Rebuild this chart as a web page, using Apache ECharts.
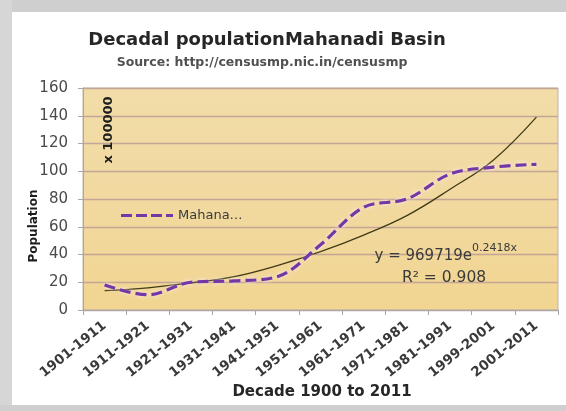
<!DOCTYPE html>
<html>
<head>
<meta charset="utf-8">
<script src="https://cdn.jsdelivr.net/npm/echarts@6/dist/echarts.min.js"></script>
<style>
html,body{margin:0;padding:0;background:#fff;}
#chart{width:566px;height:411px;}
</style>
</head>
<body>
<div id="chart"></div>
<script>
var categories = ['1901-1911','1911-1921','1921-1931','1931-1941','1941-1951','1951-1961','1961-1971','1971-1981','1981-1991','1999-2001','2001-2011'];
var population = [18, 11, 20, 21, 24, 47, 74, 80, 98, 103, 105];
var trend = [14, 16, 19.5, 24, 32, 42, 54, 68, 87, 108, 139];
var yTicks = [0, 20, 40, 60, 80, 100, 120, 140, 160];

var chart = echarts.init(document.getElementById('chart'), null, {renderer: 'canvas'});
var font = 'DejaVu Sans';
var dashIcon = 'path://M0,0 L11,0 L11,3 L0,3 Z M15,0 L26,0 L26,3 L15,3 Z M30,0 L41,0 L41,3 L30,3 Z M45,0 L52,0 L52,3 L45,3 Z';
var option = {
  backgroundColor: '#ffffff',
  animation: false,
  grid: {
    left: 83, top: 88, right: 8, bottom: 101,
    show: true,
    backgroundColor: new echarts.graphic.LinearGradient(0, 0, 0, 1, [
      {offset: 0, color: '#f2dda8'},
      {offset: 0.5, color: '#f1d9a0'},
      {offset: 1, color: '#f1d591'}
    ]),
    borderColor: '#bdb6a8', borderWidth: 1
  },
  legend: {
    left: 116, top: 204,
    icon: dashIcon,
    itemWidth: 52, itemHeight: 3, itemGap: 10,
    data: ['Mahanadi'],
    formatter: function () { return 'Mahana…'; },
    textStyle: {fontFamily: font, fontSize: 13, color: '#3a3a3a'}
  },
  xAxis: {
    type: 'category',
    data: categories,
    boundaryGap: true,
    axisLine: {lineStyle: {color: '#a8a8a8'}},
    axisTick: {show: true, length: 5, lineStyle: {color: '#a8a8a8'}},
    axisLabel: {rotate: 39, margin: 14, fontFamily: font, fontSize: 13.5, fontWeight: 'bold', color: '#3a3a3a', interval: 0}
  },
  yAxis: {
    type: 'value',
    min: 0, max: 160, interval: 20,
    axisLine: {show: true, lineStyle: {color: '#a8a8a8'}},
    axisTick: {show: true, length: 5, lineStyle: {color: '#a8a8a8'}},
    axisLabel: {margin: 15, fontFamily: font, fontSize: 15, color: '#4a4a4a',
      formatter: function (v) { return yTicks.indexOf(v) >= 0 ? String(v) : ''; }},
    splitLine: {show: true, lineStyle: {color: '#c4a596', width: 1.3}}
  },
  series: [
    {
      name: 'Mahanadi',
      type: 'line',
      data: population,
      smooth: 0.35,
      showSymbol: false,
      symbol: 'none',
      lineStyle: {color: '#7338a6', width: 3.2, type: [11, 5],
        shadowColor: 'rgba(255,240,255,0.9)', shadowBlur: 4},
      itemStyle: {color: '#7338a6'},
      z: 3
    },
    {
      name: 'Trend',
      type: 'line',
      data: trend,
      smooth: 0.4,
      showSymbol: false,
      symbol: 'none',
      lineStyle: {color: '#3f3a16', width: 1.3},
      z: 2
    }
  ],
  graphic: [
    {type: 'rect', shape: {x: 0, y: 0, width: 566, height: 12}, style: {fill: '#cfcfcf'}, z: 100},
    {type: 'rect', shape: {x: 0, y: 0, width: 12, height: 411}, style: {fill: '#d6d6d6'}, z: 100},
    {type: 'rect', shape: {x: 0, y: 405, width: 566, height: 6}, style: {fill: '#cfcfcf'}, z: 100},
    {type: 'text', style: {text: 'Decadal populationMahanadi Basin', x: 267, y: 40, textAlign: 'center', textVerticalAlign: 'middle', fontFamily: font, fontSize: 18, fontWeight: 'bold', fill: '#262626'}, z: 100},
    {type: 'text', style: {text: 'Source: http://censusmp.nic.in/censusmp', x: 262, y: 63, textAlign: 'center', textVerticalAlign: 'middle', fontFamily: font, fontSize: 12.5, fontWeight: 'bold', fill: '#505050'}, z: 100},
    {type: 'text', rotation: Math.PI / 2, x: 34, y: 226, style: {text: 'Population', textAlign: 'center', textVerticalAlign: 'middle', fontFamily: font, fontSize: 12, fontWeight: 'bold', fill: '#1e1e1e'}, z: 100},
    {type: 'text', rotation: Math.PI / 2, x: 109, y: 130, style: {text: 'x 100000', textAlign: 'center', textVerticalAlign: 'middle', fontFamily: font, fontSize: 13, fontWeight: 'bold', fill: '#1e1e1e'}, z: 100},
    {type: 'text', style: {text: 'Decade 1900 to 2011', x: 322, y: 392, textAlign: 'center', textVerticalAlign: 'middle', fontFamily: font, fontSize: 15, fontWeight: 'bold', fill: '#262626'}, z: 100},
    {type: 'text', style: {text: 'y = 969719e', x: 472, y: 256, textAlign: 'right', textVerticalAlign: 'middle', fontFamily: font, fontSize: 15, fill: '#3a3a3a'}, z: 100},
    {type: 'text', style: {text: '0.2418x', x: 472, y: 248, textAlign: 'left', textVerticalAlign: 'middle', fontFamily: font, fontSize: 11, fill: '#3a3a3a'}, z: 100},
    {type: 'text', style: {text: 'R² = 0.908', x: 444, y: 278, textAlign: 'center', textVerticalAlign: 'middle', fontFamily: font, fontSize: 15.5, fill: '#3a3a3a'}, z: 100}
  ]
};
chart.setOption(option);
</script>
</body>
</html>
